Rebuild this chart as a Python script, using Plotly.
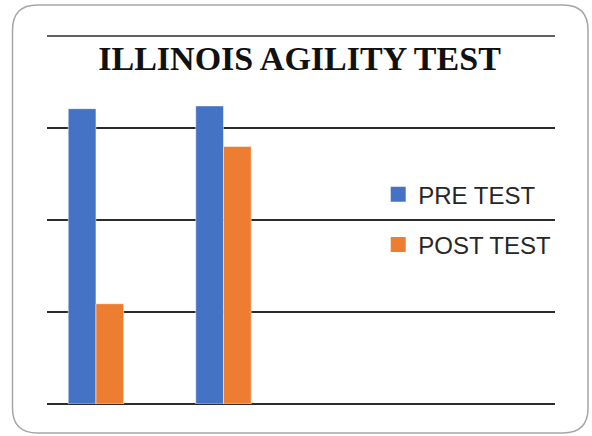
import plotly.graph_objects as go

# data (arbitrary units, grid step = 1)
groups = [0, 1]
pre_test = [3.21, 3.24]
post_test = [1.09, 2.80]
series_names = ["PRE TEST", "POST TEST"]
colors = ["#4472C4", "#ED7D31"]

W, H = 592, 436
L, R, T, B = 47, 37, 36, 32
GRID = "#2b2b2b"


def px_to_paper(x, y):
    return (x - L) / (W - L - R), (H - B - y) / (H - T - B)


def rounded_box(x0, y0, x1, y1, r):
    # rounded rectangle given in pixels, returned as a paper path
    pts = [
        ("M", x0 + r, y0), ("L", x1 - r, y0), ("Q", x1, y0, x1, y0 + r),
        ("L", x1, y1 - r), ("Q", x1, y1, x1 - r, y1), ("L", x0 + r, y1),
        ("Q", x0, y1, x0, y1 - r), ("L", x0, y0 + r), ("Q", x0, y0, x0 + r, y0),
    ]
    out = ""
    for p in pts:
        cmd, vals = p[0], p[1:]
        coords = []
        for i in range(0, len(vals), 2):
            a, b = px_to_paper(vals[i], vals[i + 1])
            coords.append(f"{a:.4f},{b:.4f}")
        out += cmd + " ".join(coords) + " "
    return out + "Z"


fig = go.Figure()
for name, vals, c in zip(series_names, [pre_test, post_test], colors):
    fig.add_trace(go.Bar(x=groups, y=vals, name=name, marker_color=c,
                         marker_line=dict(color="rgba(255,255,255,0.5)", width=1),
                         showlegend=False))
    # square legend marker
    fig.add_trace(go.Scatter(x=[None], y=[None], mode="markers", name=name,
                             legendgroup=name,
                             marker=dict(symbol="square", size=15, color=c)))

fig.update_layout(
    width=W, height=H,
    margin=dict(l=L, r=R, t=T, b=B),
    paper_bgcolor="white", plot_bgcolor="white",
    barmode="group", bargap=0.565, bargroupgap=0,
    title=dict(text="<b>ILLINOIS AGILITY TEST</b>", x=0.506, xanchor="center",
               y=0.867, yanchor="middle", yref="container",
               font=dict(family="Liberation Serif", size=34, color="#111")),
    legend=dict(x=0.652, y=0.630, xanchor="left", yanchor="top",
                bgcolor="rgba(0,0,0,0)", tracegroupgap=16,
                font=dict(family="Liberation Sans", size=24, color="#262626")),
    xaxis=dict(range=[-0.384, 3.6], showticklabels=False, showgrid=False,
               zeroline=False, showline=False, ticks=""),
    yaxis=dict(range=[0, 4], dtick=1, showticklabels=False, showgrid=True,
               gridcolor=GRID, gridwidth=1.5, zeroline=True,
               zerolinecolor=GRID, zerolinewidth=1.5, ticks=""),
    shapes=[
        dict(type="path", xref="paper", yref="paper", layer="below",
             path=rounded_box(12.5, 5, 588, 433, 25),
             line=dict(color="#a6a6a6", width=1.5)),
        # top gridline sits on the plot edge, plotly drops it
        dict(type="line", xref="paper", yref="paper", x0=0, x1=1, y0=1, y1=1,
             line=dict(color=GRID, width=1.5)),
    ],
)

fig.write_html("out.html", config={"displayModeBar": False},
               post_script="document.body.style.margin='0';")
